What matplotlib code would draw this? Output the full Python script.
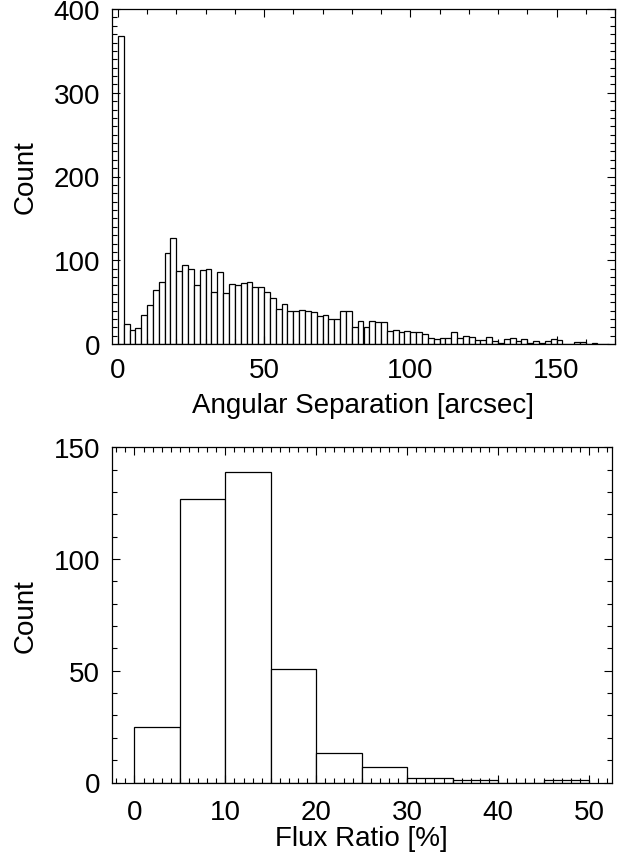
import numpy as np
import matplotlib.pyplot as plt
from matplotlib.ticker import MultipleLocator

plt.rcParams['font.family'] = ['Liberation Sans', 'DejaVu Sans']
plt.rcParams['font.size'] = 20

# angular separation histogram, 2 arcsec bins starting at 0
sep_bin_width = 2
sep_counts = [368, 24, 17, 19, 35, 46, 65, 74, 109, 127, 87, 94, 89, 71, 88, 89,
              62, 86, 61, 72, 71, 73, 74, 68, 68, 62, 55, 42, 48, 40, 39, 41,
              39, 38, 34, 35, 30, 30, 40, 39, 20, 27, 20, 28, 26, 26, 16, 17,
              14, 15, 14, 14, 12, 7, 6, 7, 7, 14, 7, 9, 8, 5, 5, 8,
              3, 1, 6, 7, 4, 6, 1, 3, 1, 3, 6, 5, 0, 0, 2, 2,
              0, 1, 0, 0]

# flux ratio histogram, 5 % bins starting at 0
flux_bin_width = 5
flux_counts = [25, 127, 139, 51, 13, 7, 2, 1, 0, 1]

fig = plt.figure(figsize=(6.28, 8.53), dpi=100)
ax1 = fig.add_axes([112/628, 1-345/853, 503/628, 335/853])
ax2 = fig.add_axes([111.7/628, 1-783.5/853, 500/628, 335.2/853])

sep_left = np.arange(len(sep_counts)) * sep_bin_width
ax1.bar(sep_left, sep_counts, width=sep_bin_width, align='edge',
        facecolor='white', edgecolor='black', linewidth=0.9)
ax1.set_xlim(-2, 170)
ax1.set_ylim(0, 400)
ax1.xaxis.set_major_locator(MultipleLocator(50))
ax1.xaxis.set_minor_locator(MultipleLocator(10))
ax1.yaxis.set_major_locator(MultipleLocator(100))
ax1.yaxis.set_minor_locator(MultipleLocator(10))
ax1.set_xlabel('Angular Separation [arcsec]', labelpad=6)
ax1.set_ylabel('Count')

flux_left = np.arange(len(flux_counts)) * flux_bin_width
ax2.bar(flux_left, flux_counts, width=flux_bin_width, align='edge',
        facecolor='white', edgecolor='black', linewidth=0.9)
ax2.set_xlim(-2.5, 52.5)
ax2.set_ylim(0, 150)
ax2.xaxis.set_major_locator(MultipleLocator(10))
ax2.xaxis.set_minor_locator(MultipleLocator(1))
ax2.yaxis.set_major_locator(MultipleLocator(50))
ax2.yaxis.set_minor_locator(MultipleLocator(10))
ax2.set_xlabel('Flux Ratio [%]', labelpad=0)
ax2.set_ylabel('Count')

for ax, xpad in ((ax1, 9.5), (ax2, 12)):
    ax.tick_params(which='both', direction='in', top=True, right=True,
                   width=0.8, color='black')
    ax.tick_params(which='major', length=6)
    ax.tick_params(which='minor', length=3.5)
    ax.tick_params(axis='y', which='major', pad=8.5)
    ax.tick_params(axis='x', which='major', pad=xpad)
    for s in ax.spines.values():
        s.set_linewidth(0.9)
    ax.yaxis.set_label_coords(-0.172, 0.5)
    ax.yaxis.label.set_va('center')

fig.savefig('out.png', dpi=100)
